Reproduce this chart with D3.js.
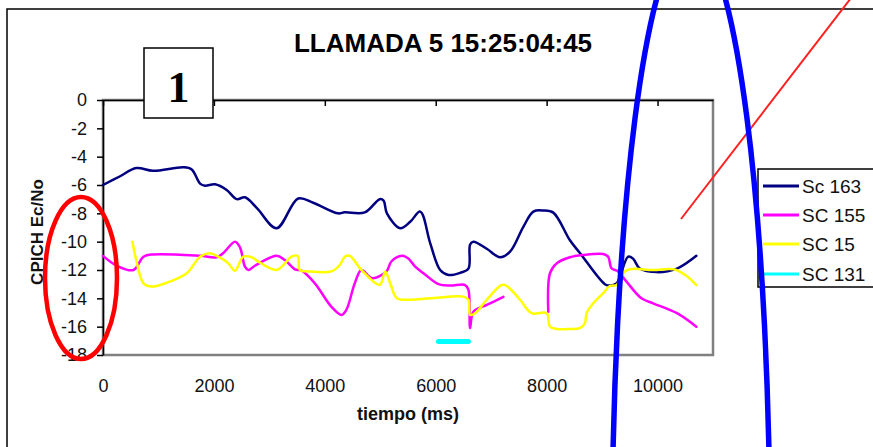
<!DOCTYPE html>
<html>
<head>
<meta charset="utf-8">
<script src="https://cdn.jsdelivr.net/npm/d3@7"></script>
<style>
  html, body { margin: 0; padding: 0; background: #fff; }
  svg { display: block; font-family: "Liberation Sans", Arial, sans-serif; }
</style>
</head>
<body>
<svg id="chart" width="873" height="447"></svg>
<script>
// ---------- DATA ----------
const title = "LLAMADA 5 15:25:04:45";
const xTitle = "tiempo (ms)";
const yTitle = "CPICH Ec/No";
const xTicks = [0, 2000, 4000, 6000, 8000, 10000];
const yTicks = [0, -2, -4, -6, -8, -10, -12, -14, -16, -18];
const seriesNames = ["Sc 163", "SC 155", "SC 15", "SC 131"];
const seriesColors = ["#000080", "#FF00FF", "#FFFF00", "#00FFFF"];

const sc163Time = [0, 300, 600, 900, 1450, 1600, 1750, 1840, 2020, 2230, 2410, 2560, 2780, 3130, 3520, 3790, 4240, 4360, 4720, 4990, 5060, 5120, 5360, 5540, 5720, 5900, 6080, 6230, 6440, 6590, 6620, 6680, 6920, 7160, 7340, 7580, 7760, 7940, 8120, 8420, 8600, 9050, 9140, 9260, 9470, 9560, 9680, 9990, 10350, 10700];
const sc163Vals = [-6, -5.4, -4.8, -5.0, -4.75, -4.9, -5.9, -6.05, -5.95, -6.35, -7.0, -6.87, -7.65, -9.05, -6.95, -7.25, -8.0, -7.93, -7.93, -7.0, -7.1, -8.0, -9.05, -8.6, -7.88, -10.1, -12.0, -12.35, -12.2, -11.9, -10.2, -10.0, -10.5, -11.1, -10.7, -8.95, -7.88, -7.8, -7.95, -9.9, -10.8, -13.0, -13.1, -12.95, -11.05, -11.2, -11.9, -12.15, -11.9, -11.0];

const sc155Time = [0, 250, 550, 730, 900, 1750, 2050, 2170, 2380, 2470, 2560, 2620, 2740, 3130, 3280, 3460, 3580, 3820, 4120, 4300, 4390, 4540, 4660, 4850, 5110, 5200, 5390, 5500, 5630, 5780, 6050, 6260, 6530, 6590, 6620, 6680, 6920, 7220, 7600, 8030, 8060, 8180, 8420, 8660, 9020, 9110, 9170, 9290, 9440, 9710, 9920, 10350, 10700];
const sc155Vals = [-11, -11.7, -12.0, -11.06, -10.9, -11.0, -11.1, -10.8, -10.0, -10.4, -11.76, -12.0, -11.7, -11.0, -11.3, -11.95, -12.05, -12.94, -14.6, -15.17, -14.8, -12.94, -12.0, -12.58, -12.1, -11.4, -11.0, -11.17, -11.76, -12.23, -13.0, -13.1, -13.06, -13.4, -16.1, -14.94, -14.47, -13.9, null, -14.94, -12.23, -11.53, -11.1, -10.94, -10.87, -11.06, -11.88, -12.1, -12.82, -14.0, -14.35, -15.05, -16.0];

const sc15Time = [530, 600, 730, 880, 1150, 1510, 1750, 1930, 2080, 2260, 2380, 2530, 2680, 2780, 3130, 3400, 3510, 3550, 3700, 4120, 4270, 4360, 4450, 4660, 4990, 5090, 5180, 5300, 5540, 5900, 6500, 6590, 6620, 6710, 6920, 7190, 7280, 7520, 7730, 8000, 8060, 8180, 8420, 8600, 8690, 8720, 8840, 9020, 9140, 9260, 9410, 9530, 9920, 10290, 10500, 10700];
const sc15Vals = [-10.0, -11.3, -12.94, -13.17, -12.9, -12.23, -11.06, -10.82, -11.06, -11.53, -12.05, -11.06, -11.1, -11.35, -12.0, -11.06, -11.0, -12.0, -12.1, -12.1, -11.65, -11.06, -11.0, -12.0, -13.06, -12.1, -12.94, -14.0, -14.1, -14.0, -13.88, -14.1, -15.17, -15.05, -14.1, -13.06, -13.13, -14.1, -15.05, -15.05, -16.0, -16.16, -16.16, -16.1, -15.76, -15.05, -14.35, -13.64, -13.13, -13.06, -12.1, -11.93, -12.0, -11.95, -12.35, -13.06];

const sc131Time = [6050, 6590];
const sc131Vals = [-17.05, -17.05];

const boxLabel = "1";

// ---------- CHART ----------
const svg = d3.select("#chart");
const W = 873, H = 447;
svg.append("rect").attr("width", W).attr("height", H).attr("fill", "#fff");

// outer chart frame
svg.append("rect").attr("x", 7).attr("y", 9).attr("width", 920).attr("height", 520)
  .attr("fill", "none").attr("stroke", "#000").attr("stroke-width", 1.5);

const plot = { left: 103, top: 100, right: 713, bottom: 355 };
const x = d3.scaleLinear().domain([0, 11000]).range([plot.left, plot.right]);
const y = d3.scaleLinear().domain([-18, 0]).range([plot.bottom, plot.top]);

// plot-area border (grey)
svg.append("rect").attr("x", plot.left).attr("y", plot.top)
  .attr("width", plot.right - plot.left).attr("height", plot.bottom - plot.top)
  .attr("fill", "#fff").attr("stroke", "#808080").attr("stroke-width", 2.5);

// title
svg.append("text").attr("x", 443).attr("y", 52).attr("text-anchor", "middle")
  .attr("font-size", 26).attr("font-weight", "bold").attr("fill", "#000").text(title);

// x axis (at the top, ticks pointing down)
const xAxisG = svg.append("g").attr("transform", `translate(0,${plot.top})`)
  .call(d3.axisBottom(x).tickValues(xTicks).tickSize(6).tickSizeOuter(0).tickFormat(""));
xAxisG.select(".domain").attr("stroke", "#000").attr("stroke-width", 1.5);
xAxisG.selectAll(".tick line").attr("stroke", "#000").attr("stroke-width", 1.5);

// x tick labels at the bottom
const xLabG = svg.append("g").attr("transform", `translate(0,379)`)
  .call(d3.axisBottom(x).tickValues(xTicks).tickSize(0).tickPadding(0).tickFormat(d => String(d)));
xLabG.select(".domain").remove();
xLabG.selectAll("text").attr("font-size", 18).attr("fill", "#111")
  .attr("font-family", "Liberation Sans, Arial, sans-serif");

// y axis
const yAxisG = svg.append("g").attr("transform", `translate(${plot.left},0)`)
  .call(d3.axisLeft(y).tickValues(yTicks).tickSize(6).tickSizeOuter(0).tickPadding(10)
    .tickFormat(d => String(d)));
yAxisG.select(".domain").attr("stroke", "#000").attr("stroke-width", 1.5);
yAxisG.selectAll(".tick line").attr("stroke", "#000").attr("stroke-width", 1.5);
yAxisG.selectAll("text").attr("font-size", 18).attr("fill", "#111")
  .attr("font-family", "Liberation Sans, Arial, sans-serif");

// axis titles
svg.append("text").attr("x", 408).attr("y", 420).attr("text-anchor", "middle")
  .attr("font-size", 18).attr("font-weight", "bold").attr("fill", "#111").text(xTitle);
svg.append("text").attr("transform", "translate(43,232) rotate(-90)").attr("text-anchor", "middle")
  .attr("font-size", 17).attr("font-weight", "bold").attr("fill", "#111").text(yTitle);

// series
const series = [
  { t: sc163Time, v: sc163Vals, w: 2.5 },
  { t: sc155Time, v: sc155Vals, w: 2.5 },
  { t: sc15Time, v: sc15Vals, w: 2.5 },
  { t: sc131Time, v: sc131Vals, w: 5 }
];
const line = d3.line()
  .defined(d => d[1] !== null)
  .x(d => x(d[0])).y(d => y(d[1]))
  .curve(d3.curveCatmullRom.alpha(0.5));

// draw in reverse so Sc 163 is on top-ish like Excel draws order
series.forEach((s, i) => {
  const pts = s.t.map((t, k) => [t, s.v[k]]);
  svg.append("path").datum(pts)
    .attr("d", line)
    .attr("fill", "none")
    .attr("stroke", seriesColors[i])
    .attr("stroke-width", s.w)
    .attr("stroke-linejoin", "round")
    .attr("stroke-linecap", "round");
});

// legend
const leg = svg.append("g");
leg.append("rect").attr("x", 758).attr("y", 169).attr("width", 140).attr("height", 118)
  .attr("fill", "#fff").attr("stroke", "#000").attr("stroke-width", 1.5);
const rowY = [186, 215, 244, 274];
seriesNames.forEach((n, i) => {
  leg.append("line").attr("x1", 763).attr("x2", 799).attr("y1", rowY[i]).attr("y2", rowY[i])
    .attr("stroke", seriesColors[i]).attr("stroke-width", 3);
  leg.append("text").attr("x", 802).attr("y", rowY[i] + 7).attr("font-size", 19)
    .attr("fill", "#111").text(n);
});

// annotation box "1"
svg.append("rect").attr("x", 144).attr("y", 48).attr("width", 69).attr("height", 70)
  .attr("fill", "#fff").attr("stroke", "#000").attr("stroke-width", 1.5);
svg.append("text").attr("x", 178.5).attr("y", 102).attr("text-anchor", "middle")
  .attr("font-family", "Liberation Serif, 'Times New Roman', serif")
  .attr("font-weight", "bold").attr("font-size", 44).attr("fill", "#000").text(boxLabel);

// red ellipse around y ticks
svg.append("ellipse").attr("cx", 81).attr("cy", 278).attr("rx", 36).attr("ry", 81)
  .attr("fill", "none").attr("stroke", "#FF0000").attr("stroke-width", 4.5);

// red stroke
svg.append("line").attr("x1", 681).attr("y1", 219).attr("x2", 851).attr("y2", -2)
  .attr("stroke", "#FF2020").attr("stroke-width", 2);

// big blue arc
svg.append("ellipse").attr("cx", 691).attr("cy", 550).attr("rx", 79).attr("ry", 612)
  .attr("fill", "none").attr("stroke", "#0000FF").attr("stroke-width", 5.5);
</script>
</body>
</html>
